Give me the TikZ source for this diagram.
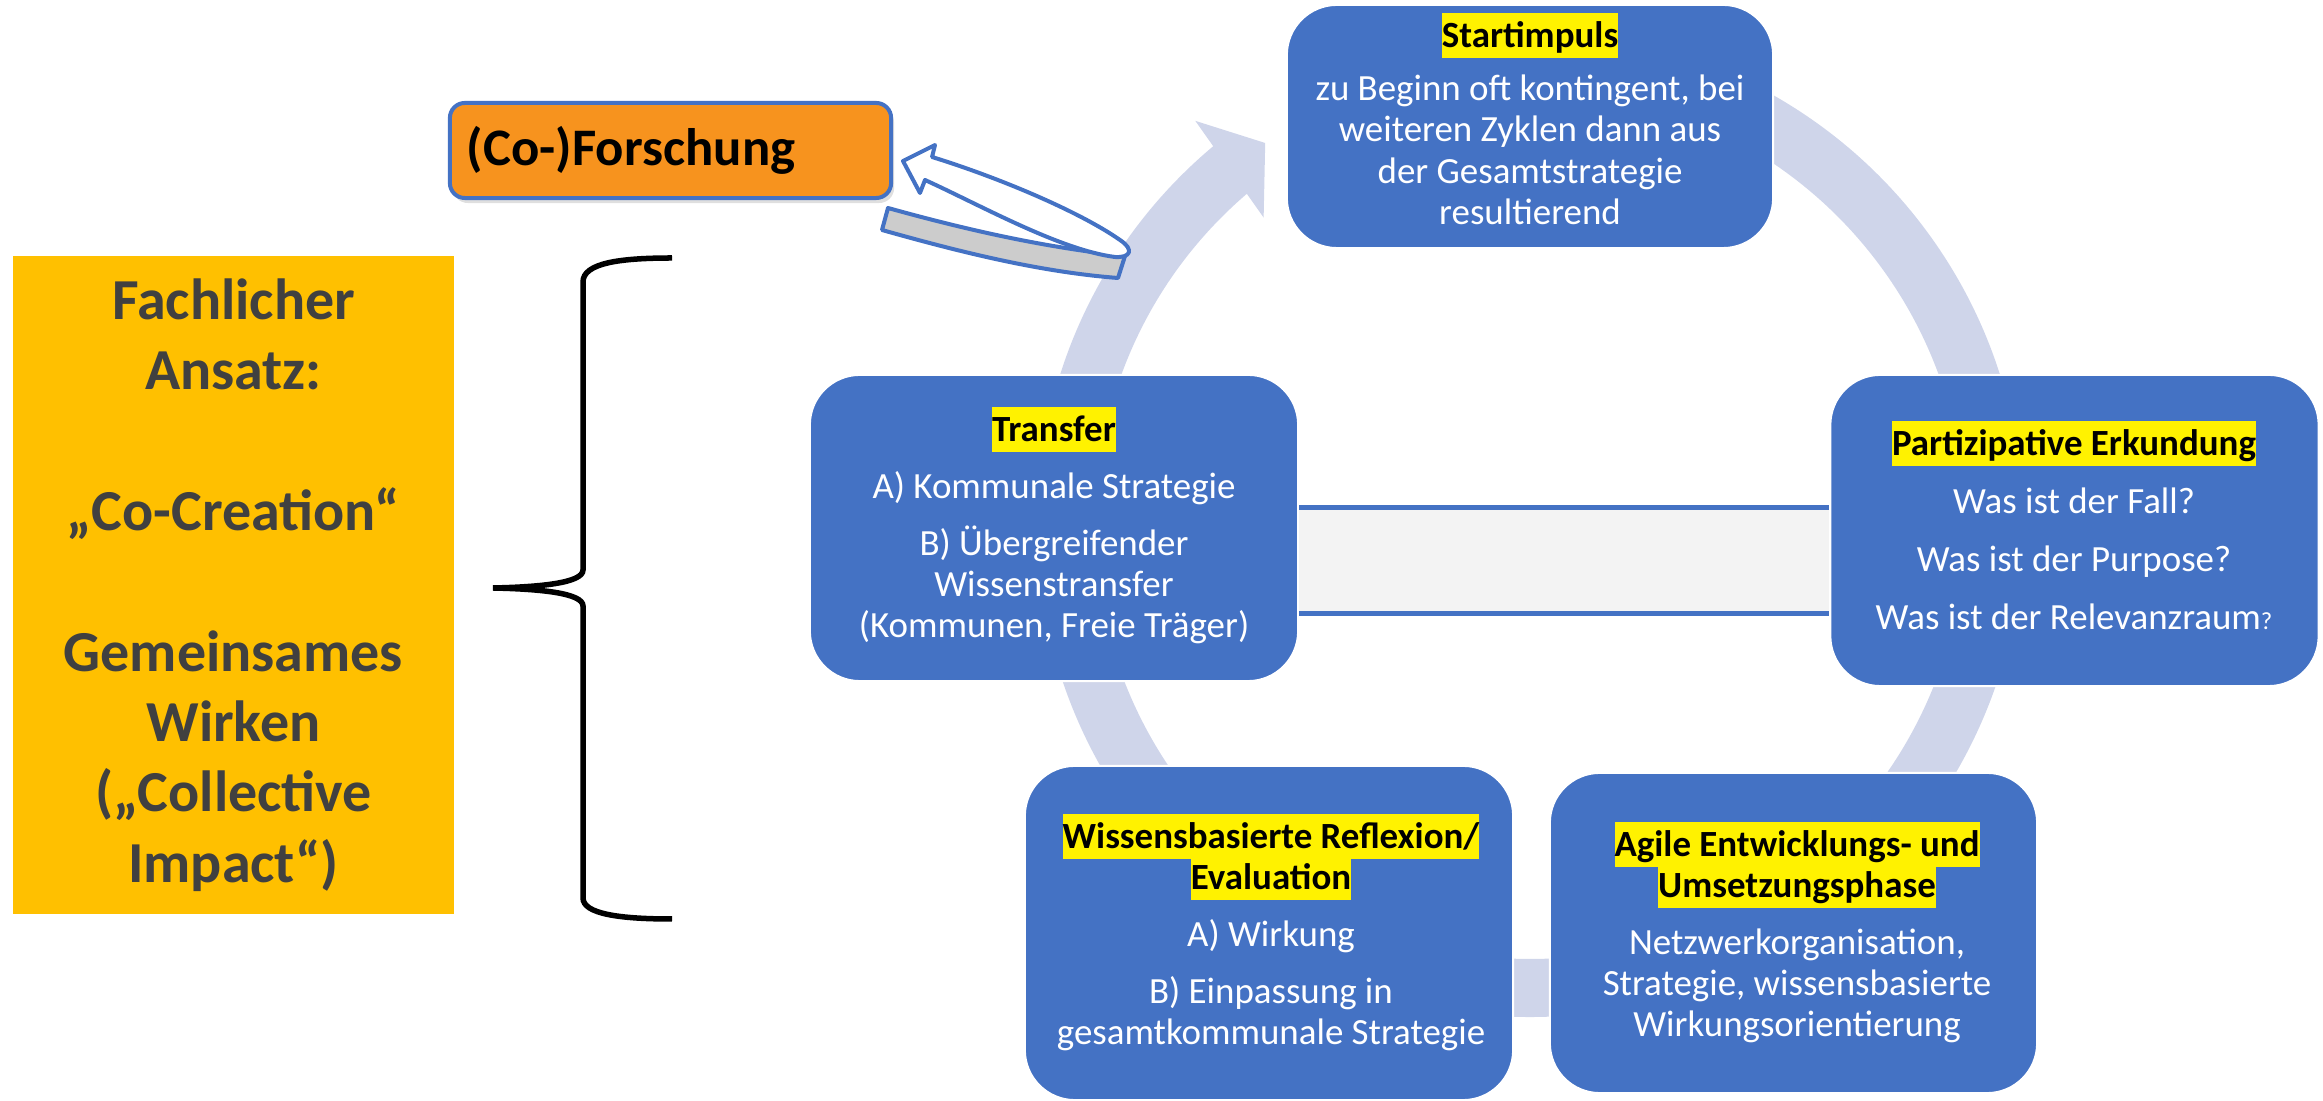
\documentclass[tikz,border=0pt]{standalone}
\usepackage{fontspec}
\setmainfont{Carlito}
\usetikzlibrary{shadows}

\definecolor{phaseblue}{HTML}{4472C4}
\definecolor{ringlav}{HTML}{CFD5EA}
\definecolor{barfill}{HTML}{F3F3F3}
\definecolor{forschorange}{HTML}{F7931E}
\definecolor{ansatzgold}{HTML}{FFC000}
\definecolor{darktext}{HTML}{404040}
\definecolor{ribbongray}{HTML}{CCCCCC}

\newcommand{\phasefont}{\fontsize{10.5pt}{11.7pt}\selectfont\lineskiplimit=-20pt}
\newcommand{\headstrut}{\rule[-0.29em]{0pt}{1.22em}}
\newcommand{\phasehead}[1]{{\setlength{\fboxsep}{0pt}\colorbox{yellow}{\textcolor{black}{\bfseries\headstrut #1}}}}

\begin{document}
\begin{tikzpicture}[x=0.01cm, y=-0.01cm,
	phase/.style={shape=rectangle, draw=white, line width=0.02cm, fill=phaseblue, rounded corners=0.5cm, inner sep=0pt},
	phasetext/.style={anchor=north, align=center, inner sep=0pt, text=white, font=\phasefont},
	ring/.style={draw=ringlav, line width=0.58cm},
	barline/.style={draw=phaseblue, line width=0.05cm},
	ribbon/.style={draw=phaseblue, line width=0.04cm, line join=round},
	brace/.style={draw=black, line width=0.055cm}]
	\useasboundingbox (0,0) rectangle (2323,1101);
	% Cycle ring and arrow head:
	\coordinate (ctr) at (1530,524);
	\draw[ring] (ctr) ++(231:464) arc[start angle=231, end angle=-90, radius=464];
	\begin{scope}[shift={(ctr)}]
		\fill[ringlav] (230.3:524) -- (235.2:464) -- (229:406) -- cycle;
	\end{scope}
	% Boxes of the cycle:
	\node[phase, minimum width=4.86cm, minimum height=2.43cm] (start) at (1530,126.5){};
	\node[phase, minimum width=4.88cm, minimum height=3.06cm] (transfer) at (1054,528){};
	\node[phase, minimum width=4.88cm, minimum height=3.11cm] (partiz) at (2074.5,530.5){};
	\node[phase, minimum width=4.88cm, minimum height=3.34cm] (wissen) at (1269,933){};
	\node[phase, minimum width=4.87cm, minimum height=3.20cm] (agile) at (1793.5,933){};
	% Bar between Transfer and Erkundung:
	\fill[barfill] (transfer.east |- 0,508) rectangle (partiz.west |- 0,614);
	\draw[barline] (transfer.east |- 0,508) -- (partiz.west |- 0,508);
	\draw[barline] (transfer.east |- 0,614) -- (partiz.west |- 0,614);
	% Texts:
	\node[phasetext] (starttxt) at (1530,12){\phasehead{Startimpuls}\\[3.6pt] zu Beginn oft kontingent, bei\\ weiteren Zyklen dann aus\\ der Gesamtstrategie\\ resultierend};
	\node[phasetext] (transfertxt) at (1054,406){\phasehead{Transfer}\\[4.6pt] A) Kommunale Strategie\\[4.6pt] B) Übergreifender\\ Wissenstransfer\\ (Kommunen, Freie Träger)};
	\node[phasetext] (partiztxt) at (2074,420){\phasehead{Partizipative Erkundung}\\[4.8pt] Was ist der Fall?\\[4.8pt] Was ist der Purpose?\\[4.8pt] Was ist der Relevanzraum{\fontsize{7pt}{8pt}\selectfont ?}};
	\node[phasetext] (wissentxt) at (1271,813){\phasehead{Wissensbasierte Reflexion/}\\ \phasehead{Evaluation}\\[4.6pt] A) Wirkung\\[4.6pt] B) Einpassung in\\ gesamtkommunale Strategie};
	\node[phasetext] (agiletxt) at (1797,821){\phasehead{Agile Entwicklungs- und}\\ \phasehead{Umsetzungsphase}\\[4.6pt] Netzwerkorganisation,\\ Strategie, wissensbasierte\\ Wirkungsorientierung};
	% (Co-)Forschung with its curved arrow:
	\node[shape=rectangle, draw=phaseblue, line width=0.04cm, fill=forschorange, rounded corners=0.15cm, minimum width=4.41cm, minimum height=0.95cm, text width=4.07cm, inner xsep=0.17cm, align=left, font=\fontsize{15pt}{18pt}\selectfont\bfseries, drop shadow={opacity=0.25, shadow xshift=0.03cm, shadow yshift=-0.05cm}] (forsch) at (670.5,150.5){(Co-)Forschung};
	\draw[ribbon, fill=ribbongray] (888,208) .. controls (960,228) and (1040,247) .. (1125,256) -- (1118,278) .. controls (1040,272) and (960,252) .. (882,230) -- cycle;
	\draw[ribbon, fill=white] (903,161) -- (935,145) -- (932,157) .. controls (1000,178) and (1080,212) .. (1120,240) .. controls (1135,250) and (1130,258) .. (1115,257) .. controls (1060,250) and (980,205) .. (925,180) -- (920,193) -- cycle;
	% Fachlicher Ansatz and brace:
	\node[shape=rectangle, fill=ansatzgold, minimum width=4.41cm, minimum height=6.58cm, inner sep=0pt] (ansatz) at (233.5,585){};
	\node[align=center, inner sep=0pt, text=darktext, font=\fontsize{16.5pt}{20pt}\selectfont\bfseries] (ansatztxt) at (ansatz.center){Fachlicher\\ Ansatz:\\[20pt] „Co-Creation“\\[20pt] Gemeinsames\\ Wirken\\ („Collective\\ Impact“)};
	\draw[brace] (672,258) .. controls (620,258) and (583,263) .. (583,282) -- (583,570) .. controls (583,583) and (540,587) .. (493,588) .. controls (540,589) and (583,593) .. (583,606) -- (583,898) .. controls (583,914) and (620,919) .. (672,919);
\end{tikzpicture}
\end{document}
